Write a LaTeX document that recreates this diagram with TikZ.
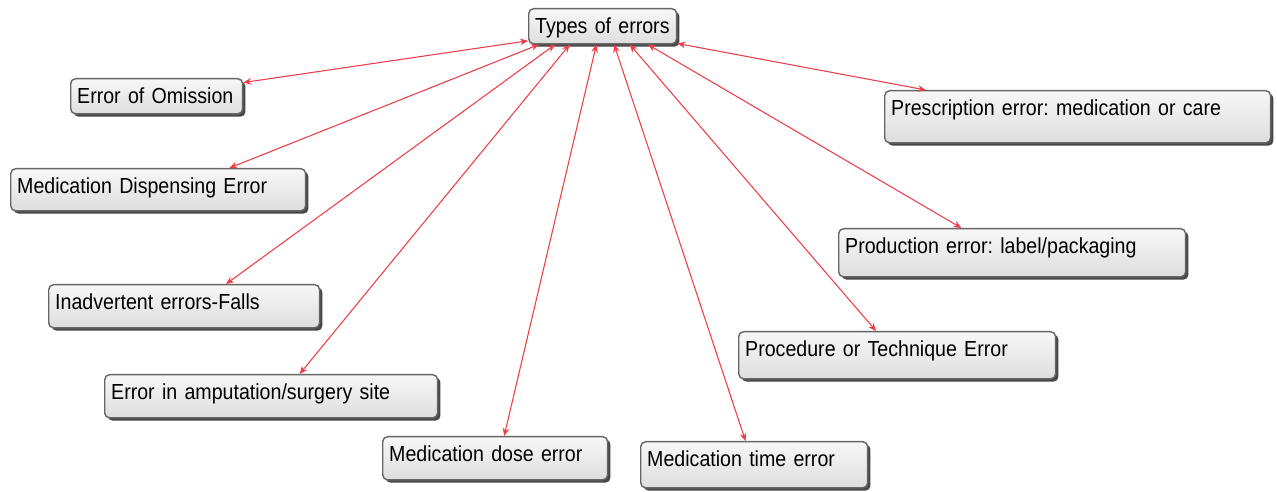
\documentclass[tikz,border=0pt]{standalone}
\usepackage{fontspec}
\setmainfont[FakeStretch=0.9,WordSpace=0.85]{Liberation Sans}
\usepackage{tikz}
\usetikzlibrary{arrows.meta,shadows}

\begin{document}
\begin{tikzpicture}[x=0.02cm,y=-0.02cm,
    errbox/.style 2 args={anchor=north west, rounded corners=2.8pt,
        draw=black!60, line width=0.8pt, top color=gray!6, bottom color=gray!26,
        drop shadow={shadow xshift=1.6pt, shadow yshift=-1.6pt, fill=black!80, opacity=0.9},
        inner xsep=0.13cm, inner ysep=0.18cm, align=left,
        font=\fontsize{12.4}{14}\selectfont, text height=8.9pt,
        execute at begin node={\frenchspacing\hyphenpenalty=10000\relax},
        text width=#1cm, text depth=#2cm},
    link/.style={draw={rgb,255:red,238;green,60;blue,70}, line width=0.6pt,
        <->, >={Stealth[length=4.5pt,width=3.8pt]}}]
    \useasboundingbox (0,0) rectangle (1277,492);

    \node[errbox={2.70}{0.03}] (types) at (528,8) {Types of errors};

    \node[errbox={3.18}{0.03}] (omission) at (70,78) {Error of Omission};
    \node[errbox={5.64}{0.17}] (dispensing) at (10,168) {Medication Dispensing Error};
    \node[errbox={5.16}{0.19}] (falls) at (48,284) {Inadvertent errors-Falls};
    \node[errbox={6.40}{0.19}] (surgery) at (104,374) {Error in amputation/surgery site};
    \node[errbox={4.24}{0.19}] (dose) at (382,436) {Medication dose error};
    \node[errbox={4.28}{0.25}] (time) at (640,441) {Medication time error};
    \node[errbox={6.08}{0.27}] (technique) at (738,331) {Procedure or Technique Error};
    \node[errbox={6.68}{0.29}] (production) at (838,228) {Production error: label/packaging};
    \node[errbox={7.46}{0.37}] (prescription) at (884,90) {Prescription error: medication or care};

    \draw[link] (types.191) -- (omission.9);
    \draw[link] (types.196) -- (dispensing.17);
    \draw[link] (types.201) -- (falls.28);
    \draw[link] (types.209) -- (surgery.38);
    \draw[link] (types.251) -- (dose.68);
    \draw[link] (types.302) -- (time.110);
    \draw[link] (types.326) -- (technique.131);
    \draw[link] (types.338) -- (production.154);
    \draw[link] (types.347) -- (prescription.170);

\end{tikzpicture}
\end{document}
